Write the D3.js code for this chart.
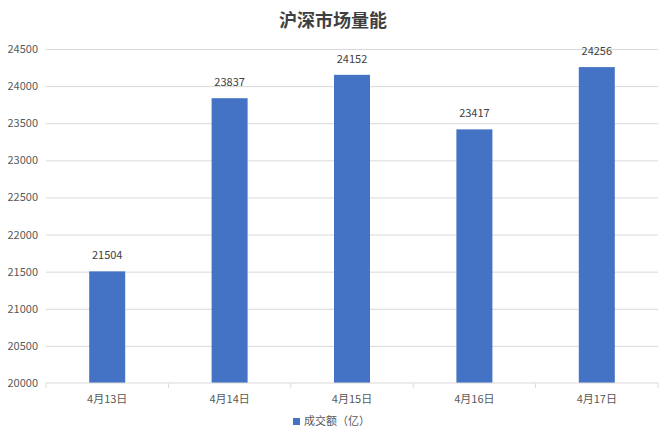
<!DOCTYPE html>
<meta charset="utf-8">
<style>
    body { margin: 0; background: #fff; }
    text { font-family: "Noto Sans CJK SC", "Noto Sans", sans-serif; }
    .grid line { stroke: #d9d9d9; stroke-width: 1; }
    .grid path { display: none; }
    .axis text { fill: #595959; font-size: 11px; }
</style>
<svg width="667" height="445"></svg>
<script src="https://cdnjs.cloudflare.com/ajax/libs/d3/7.8.5/d3.min.js"></script>
<script>

    var categories = ["4月13日", "4月14日", "4月15日", "4月16日", "4月17日"];
    var values = [21504, 23837, 24152, 23417, 24256];
    var yTicks = [20000, 20500, 21000, 21500, 22000, 22500, 23000, 23500, 24000, 24500];
    var title = "沪深市场量能";
    var seriesName = "成交额（亿）";

    var svg = d3.select("svg"),
        margin = {top: 49, right: 9, bottom: 62, left: 46},
        width = +svg.attr("width") - margin.left - margin.right,
        height = +svg.attr("height") - margin.top - margin.bottom;

    var x = d3.scaleBand().domain(categories).range([0, width]).paddingInner(0).paddingOuter(0);
    var y = d3.scaleLinear().domain([20000, 24500]).range([height, 0]);

    var g = svg.append("g")
        .attr("transform", "translate(" + margin.left + "," + margin.top + ")");

    // gridlines
    g.append("g")
        .attr("class", "grid")
        .call(d3.axisLeft(y).tickValues(yTicks).tickSize(-width).tickFormat(""))
        .call(function(s) { s.selectAll(".tick").filter(function(d) { return d === 20000; }).remove(); });

    // y labels
    g.append("g")
        .attr("class", "axis")
        .call(d3.axisLeft(y).tickValues(yTicks).tickSize(0).tickPadding(8).tickFormat(d3.format("d")))
        .call(function(s) { s.select(".domain").remove(); });

    // bars
    var bw = 36;
    g.selectAll(".bar")
        .data(values)
        .enter().append("rect")
        .attr("fill", "#4472c4")
        .attr("x", function(d, i) { return x(categories[i]) + x.bandwidth() / 2 - bw / 2; })
        .attr("width", bw)
        .attr("y", function(d) { return y(d); })
        .attr("height", function(d) { return height - y(d); });

    // data labels
    g.selectAll(".lbl")
        .data(values)
        .enter().append("text")
        .attr("x", function(d, i) { return x(categories[i]) + x.bandwidth() / 2; })
        .attr("y", function(d) { return y(d) - 12; })
        .attr("text-anchor", "middle")
        .attr("fill", "#404040")
        .attr("font-size", "11px")
        .text(function(d) { return d; });

    // x axis
    var xAxis = g.append("g")
        .attr("class", "axis")
        .attr("transform", "translate(0," + height + ")");
    xAxis.append("line").attr("x1", 0).attr("x2", width).attr("stroke", "#d9d9d9");
    var bounds = categories.map(function(c) { return x(c); }).concat([width]);
    xAxis.selectAll(".tk")
        .data(bounds)
        .enter().append("line")
        .attr("x1", function(d) { return d; })
        .attr("x2", function(d) { return d; })
        .attr("y1", 0).attr("y2", 5)
        .attr("stroke", "#d9d9d9");
    xAxis.selectAll(".xl")
        .data(categories)
        .enter().append("text")
        .attr("x", function(d) { return x(d) + x.bandwidth() / 2; })
        .attr("y", 20)
        .attr("text-anchor", "middle")
        .text(function(d) { return d; });

    // title
    svg.append("text")
        .attr("x", 333)
        .attr("y", 27)
        .attr("text-anchor", "middle")
        .attr("font-size", "18px")
        .attr("font-weight", "bold")
        .attr("fill", "#404040")
        .text(title);

    // legend
    var leg = svg.append("g").attr("transform", "translate(293,425)");
    leg.append("rect").attr("x", 0).attr("y", -7).attr("width", 7).attr("height", 7).attr("fill", "#4472c4");
    leg.append("text").attr("x", 11).attr("y", 0).attr("font-size", "11px").attr("fill", "#595959").text(seriesName);

</script>
